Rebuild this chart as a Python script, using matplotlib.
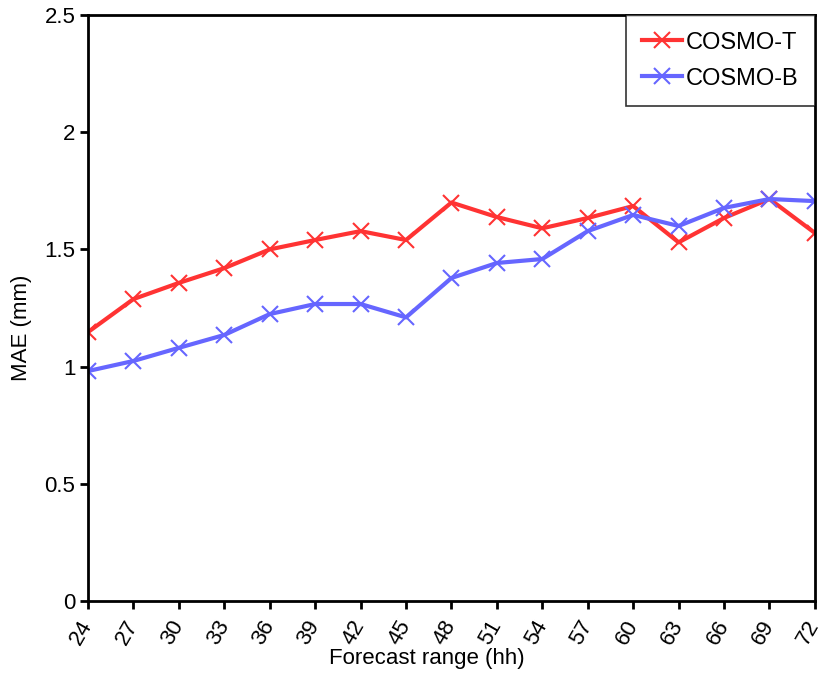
import matplotlib
matplotlib.use("Agg")
import matplotlib.pyplot as plt

plt.rcParams['font.family'] = ['Liberation Sans', 'DejaVu Sans']

hours = [24, 27, 30, 33, 36, 39, 42, 45, 48, 51, 54, 57, 60, 63, 66, 69, 72]
cosmo_t = [1.147, 1.288, 1.357, 1.42, 1.50, 1.54, 1.578, 1.54, 1.70, 1.638, 1.59,
           1.634, 1.685, 1.53, 1.634, 1.715, 1.57]
cosmo_b = [0.981, 1.024, 1.08, 1.135, 1.224, 1.267, 1.267, 1.21, 1.378, 1.442, 1.459,
           1.578, 1.647, 1.60, 1.677, 1.715, 1.706]
yticks = [0, 0.5, 1, 1.5, 2, 2.5]
ytick_labels = ['0', '0.5', '1', '1.5', '2', '2.5']

fig = plt.figure(figsize=(8.19, 6.75), dpi=100)
ax = fig.add_axes([0.1074, 0.1096, 0.8876, 0.8682])

ax.plot(hours, cosmo_t, color='#ff3333', lw=3, marker='x', ms=11, mew=1.5, label='COSMO-T')
ax.plot(hours, cosmo_b, color='#6666ff', lw=3, marker='x', ms=11, mew=1.5, label='COSMO-B')

ax.set_xlim(24, 72)
ax.set_ylim(0, 2.5)
ax.set_xticks(hours)
ax.set_xticklabels([str(h) for h in hours], rotation=60, fontsize=16,
                   ha='right', va='center', rotation_mode='anchor')
ax.set_yticks(yticks)
ax.set_yticklabels(ytick_labels, fontsize=16)
ax.tick_params(direction='out', length=6, width=2, color='black', pad=3)
ax.tick_params(axis='x', pad=9)
for s in ax.spines.values():
    s.set_linewidth(2)
ax.set_xlabel('Forecast range (hh)', fontsize=16)
ax.xaxis.set_label_coords(0.466, -0.08)
ax.set_ylabel('MAE (mm)', fontsize=16)
ax.yaxis.set_label_coords(-0.077, 0.466)

leg = ax.legend(loc='upper right', fontsize=17, frameon=True, fancybox=False,
                edgecolor='black', borderaxespad=0, handlelength=1.7,
                handletextpad=0.15, borderpad=0.7, labelspacing=0.6)
leg.get_frame().set_linewidth(1.2)

fig.savefig('out.png', dpi=100)
